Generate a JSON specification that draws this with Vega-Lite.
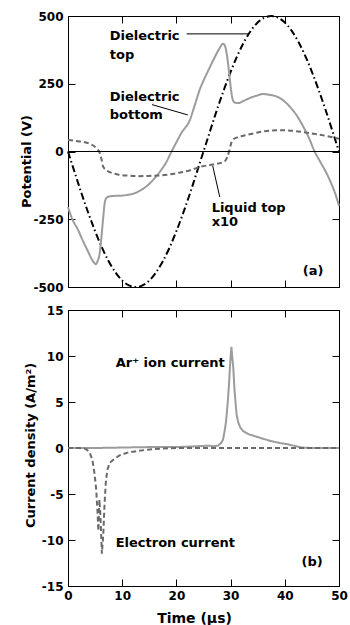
{
  "$schema": "https://vega.github.io/schema/vega-lite/v6.json",
  "padding": {"left": 20, "top": 10, "right": 4, "bottom": 0},
  "spacing": 23,
  "bounds": "flush",
  "resolve": {"scale": {"color": "independent", "strokeDash": "independent"}},
  "config": {
    "view": {"stroke": null},
    "font": "DejaVu Sans",
    "axis": {
      "domainColor": "#000", "domainWidth": 1, "tickColor": "#000", "tickWidth": 1, "tickSize": -7,
      "grid": false, "labelFont": "DejaVu Sans", "labelFontSize": 12, "labelFontWeight": "bold",
      "labelColor": "#000", "labelPadding": 12, "labelOverlap": false, "labelFlush": false,
      "titleFont": "DejaVu Sans", "titleFontSize": 13, "titleFontWeight": "bold", "titleColor": "#000",
      "labelExpr": "'' + datum.value"
    }
  },
  "vconcat": [
    {
      "width": 271,
      "height": 271,
      "layer": [
        {
          "data": {"values": [
            {"s": "top", "t": 0, "v": 0}, {"s": "top", "t": 1.25, "v": -78}, {"s": "top", "t": 2.5, "v": -155}, {"s": "top", "t": 3.75, "v": -227},
            {"s": "top", "t": 5, "v": -294}, {"s": "top", "t": 6.25, "v": -354}, {"s": "top", "t": 7.5, "v": -405}, {"s": "top", "t": 8.75, "v": -446},
            {"s": "top", "t": 10, "v": -476}, {"s": "top", "t": 11.25, "v": -494}, {"s": "top", "t": 12.5, "v": -500}, {"s": "top", "t": 13.75, "v": -494},
            {"s": "top", "t": 15, "v": -476}, {"s": "top", "t": 16.25, "v": -446}, {"s": "top", "t": 17.5, "v": -405}, {"s": "top", "t": 18.75, "v": -354},
            {"s": "top", "t": 20, "v": -294}, {"s": "top", "t": 21.25, "v": -227}, {"s": "top", "t": 22.5, "v": -155}, {"s": "top", "t": 23.75, "v": -78},
            {"s": "top", "t": 25, "v": 0}, {"s": "top", "t": 26.25, "v": 78}, {"s": "top", "t": 27.5, "v": 155}, {"s": "top", "t": 28.75, "v": 227},
            {"s": "top", "t": 30, "v": 294}, {"s": "top", "t": 31.25, "v": 354}, {"s": "top", "t": 32.5, "v": 405}, {"s": "top", "t": 33.75, "v": 446},
            {"s": "top", "t": 35, "v": 476}, {"s": "top", "t": 36.25, "v": 494}, {"s": "top", "t": 37.5, "v": 500}, {"s": "top", "t": 38.75, "v": 494},
            {"s": "top", "t": 40, "v": 476}, {"s": "top", "t": 41.25, "v": 446}, {"s": "top", "t": 42.5, "v": 405}, {"s": "top", "t": 43.75, "v": 354},
            {"s": "top", "t": 45, "v": 294}, {"s": "top", "t": 46.25, "v": 227}, {"s": "top", "t": 47.5, "v": 155}, {"s": "top", "t": 48.75, "v": 78},
            {"s": "top", "t": 50, "v": 0},
            {"s": "bottom", "t": 0, "v": -205}, {"s": "bottom", "t": 0.8, "v": -250}, {"s": "bottom", "t": 1.85, "v": -289}, {"s": "bottom", "t": 2.8, "v": -332},
            {"s": "bottom", "t": 3.7, "v": -369}, {"s": "bottom", "t": 4.4, "v": -398}, {"s": "bottom", "t": 4.9, "v": -412}, {"s": "bottom", "t": 5.15, "v": -416},
            {"s": "bottom", "t": 5.45, "v": -405}, {"s": "bottom", "t": 5.85, "v": -375}, {"s": "bottom", "t": 6.15, "v": -320}, {"s": "bottom", "t": 6.46, "v": -252},
            {"s": "bottom", "t": 6.77, "v": -190}, {"s": "bottom", "t": 7.0, "v": -174}, {"s": "bottom", "t": 7.4, "v": -167}, {"s": "bottom", "t": 8.5, "v": -164},
            {"s": "bottom", "t": 9.85, "v": -163}, {"s": "bottom", "t": 11, "v": -160}, {"s": "bottom", "t": 12.3, "v": -154}, {"s": "bottom", "t": 13.5, "v": -142},
            {"s": "bottom", "t": 14.8, "v": -123}, {"s": "bottom", "t": 16, "v": -98}, {"s": "bottom", "t": 17.2, "v": -68}, {"s": "bottom", "t": 18.2, "v": -37},
            {"s": "bottom", "t": 19.1, "v": 0}, {"s": "bottom", "t": 20, "v": 34}, {"s": "bottom", "t": 20.9, "v": 68}, {"s": "bottom", "t": 22.5, "v": 117},
            {"s": "bottom", "t": 23.4, "v": 172}, {"s": "bottom", "t": 24.3, "v": 228}, {"s": "bottom", "t": 25.2, "v": 270}, {"s": "bottom", "t": 26.1, "v": 308},
            {"s": "bottom", "t": 27.0, "v": 345}, {"s": "bottom", "t": 28.0, "v": 382}, {"s": "bottom", "t": 28.6, "v": 398}, {"s": "bottom", "t": 29.0, "v": 388},
            {"s": "bottom", "t": 29.2, "v": 370}, {"s": "bottom", "t": 29.5, "v": 330}, {"s": "bottom", "t": 29.8, "v": 277}, {"s": "bottom", "t": 30.1, "v": 225},
            {"s": "bottom", "t": 30.4, "v": 191}, {"s": "bottom", "t": 30.8, "v": 180}, {"s": "bottom", "t": 31.4, "v": 179}, {"s": "bottom", "t": 32.5, "v": 188},
            {"s": "bottom", "t": 33.5, "v": 197}, {"s": "bottom", "t": 34.8, "v": 206}, {"s": "bottom", "t": 36.0, "v": 212}, {"s": "bottom", "t": 37.2, "v": 209},
            {"s": "bottom", "t": 38.5, "v": 203}, {"s": "bottom", "t": 39.8, "v": 187}, {"s": "bottom", "t": 40.9, "v": 166}, {"s": "bottom", "t": 42.2, "v": 133},
            {"s": "bottom", "t": 43.4, "v": 92}, {"s": "bottom", "t": 44.5, "v": 48}, {"s": "bottom", "t": 45.5, "v": 0}, {"s": "bottom", "t": 46.6, "v": -40},
            {"s": "bottom", "t": 47.7, "v": -80}, {"s": "bottom", "t": 48.5, "v": -115}, {"s": "bottom", "t": 49.3, "v": -155}, {"s": "bottom", "t": 50, "v": -200},
            {"s": "liquid", "t": 0, "v": 42}, {"s": "liquid", "t": 1.5, "v": 39}, {"s": "liquid", "t": 3.1, "v": 34}, {"s": "liquid", "t": 4.3, "v": 26},
            {"s": "liquid", "t": 5.2, "v": 13}, {"s": "liquid", "t": 5.85, "v": -5}, {"s": "liquid", "t": 6.2, "v": -30}, {"s": "liquid", "t": 6.46, "v": -55},
            {"s": "liquid", "t": 6.9, "v": -66}, {"s": "liquid", "t": 7.4, "v": -73}, {"s": "liquid", "t": 8.2, "v": -80}, {"s": "liquid", "t": 9.2, "v": -85},
            {"s": "liquid", "t": 11, "v": -89}, {"s": "liquid", "t": 12.9, "v": -91}, {"s": "liquid", "t": 14.8, "v": -90}, {"s": "liquid", "t": 16.6, "v": -89},
            {"s": "liquid", "t": 18.5, "v": -85}, {"s": "liquid", "t": 20.3, "v": -79}, {"s": "liquid", "t": 22.4, "v": -70}, {"s": "liquid", "t": 24.5, "v": -56},
            {"s": "liquid", "t": 26.8, "v": -48}, {"s": "liquid", "t": 28.2, "v": -42}, {"s": "liquid", "t": 28.9, "v": -37}, {"s": "liquid", "t": 29.4, "v": -20},
            {"s": "liquid", "t": 29.8, "v": 6}, {"s": "liquid", "t": 30.1, "v": 30}, {"s": "liquid", "t": 30.4, "v": 43}, {"s": "liquid", "t": 31.2, "v": 52},
            {"s": "liquid", "t": 32.3, "v": 58}, {"s": "liquid", "t": 34.5, "v": 68}, {"s": "liquid", "t": 36.6, "v": 76}, {"s": "liquid", "t": 38.5, "v": 78},
            {"s": "liquid", "t": 40.3, "v": 78}, {"s": "liquid", "t": 42.5, "v": 74}, {"s": "liquid", "t": 44.6, "v": 68}, {"s": "liquid", "t": 47.5, "v": 58},
            {"s": "liquid", "t": 50, "v": 47}
          ]},
          "mark": {"type": "line", "strokeWidth": 2, "interpolate": "monotone"},
          "encoding": {
            "x": {"field": "t", "type": "quantitative", "scale": {"domain": [0, 50], "nice": false},
                  "axis": {"orient": "bottom", "values": [0, 10, 20, 30, 40, 50], "labels": false, "title": null}},
            "y": {"field": "v", "type": "quantitative", "scale": {"domain": [-500, 500], "nice": false},
                  "axis": {"orient": "left", "values": [-500, -250, 0, 250, 500], "title": "Potential (V)",
                           "titleX": -38, "titleY": 145, "titleBaseline": "alphabetic"}},
            "color": {"field": "s", "type": "nominal", "legend": null,
                      "scale": {"domain": ["top", "bottom", "liquid"], "range": ["#000000", "#9c9c9c", "#6a6a6a"]}},
            "strokeDash": {"field": "s", "type": "nominal", "legend": null,
                           "scale": {"domain": ["top", "bottom", "liquid"], "range": [[7, 3, 1.5, 3], [1, 0], [5, 3]]}}
          }
        },
        {
          "data": {"values": [{"v": 0}]},
          "mark": {"type": "rule", "color": "#000", "strokeWidth": 1},
          "encoding": {
            "y": {"field": "v", "type": "quantitative", "scale": {"domain": [-500, 500], "nice": false}, "axis": null}
          }
        },
        {
          "data": {"values": [
            {"t": 21.9, "v": 434, "t2": 33.4, "v2": 434},
            {"t": 15.5, "v": 173, "t2": 22.1, "v2": 135},
            {"t": 26.7, "v": -53, "t2": 28.0, "v2": -168}
          ]},
          "mark": {"type": "rule", "color": "#000", "strokeWidth": 1},
          "encoding": {
            "x": {"field": "t", "type": "quantitative", "scale": {"domain": [0, 50], "nice": false}, "axis": null},
            "x2": {"field": "t2"},
            "y": {"field": "v", "type": "quantitative", "scale": {"domain": [-500, 500], "nice": false}, "axis": null},
            "y2": {"field": "v2"}
          }
        },
        {
          "data": {"values": [
            {"t": 7.7, "v": 413, "label": "Dielectric"},
            {"t": 7.7, "v": 342, "label": "top"},
            {"t": 7.7, "v": 187, "label": "Dielectric"},
            {"t": 7.7, "v": 121, "label": "bottom"},
            {"t": 26.5, "v": -222, "label": "Liquid top"},
            {"t": 26.5, "v": -274, "label": "x10"},
            {"t": 43.3, "v": -455, "label": "(a)"}
          ]},
          "mark": {"type": "text", "align": "left", "baseline": "alphabetic", "font": "DejaVu Sans", "fontSize": 13, "fontWeight": "bold", "color": "#000"},
          "encoding": {
            "x": {"field": "t", "type": "quantitative", "scale": {"domain": [0, 50], "nice": false},
                  "axis": {"orient": "top", "values": [0, 10, 20, 30, 40, 50], "labels": false, "title": null}},
            "y": {"field": "v", "type": "quantitative", "scale": {"domain": [-500, 500], "nice": false},
                  "axis": {"orient": "right", "values": [-500, -250, 0, 250, 500], "labels": false, "title": null}},
            "text": {"field": "label"}
          }
        }
      ],
      "resolve": {"axis": {"x": "independent", "y": "independent"}}
    },
    {
      "width": 271,
      "height": 276,
      "layer": [
        {
          "data": {"values": [
            {"s": "ion", "t": 0, "j": 0}, {"s": "ion", "t": 5, "j": 0}, {"s": "ion", "t": 10, "j": 0.05}, {"s": "ion", "t": 15, "j": 0.1},
            {"s": "ion", "t": 20, "j": 0.1}, {"s": "ion", "t": 24, "j": 0.2}, {"s": "ion", "t": 25.8, "j": 0.25}, {"s": "ion", "t": 27, "j": 0.2},
            {"s": "ion", "t": 27.7, "j": 0.25}, {"s": "ion", "t": 28.3, "j": 0.6}, {"s": "ion", "t": 28.6, "j": 0.9}, {"s": "ion", "t": 29.0, "j": 2.2},
            {"s": "ion", "t": 29.2, "j": 3.1}, {"s": "ion", "t": 29.5, "j": 5.2}, {"s": "ion", "t": 29.7, "j": 6.9}, {"s": "ion", "t": 29.95, "j": 9.5},
            {"s": "ion", "t": 30.15, "j": 11}, {"s": "ion", "t": 30.35, "j": 9.6}, {"s": "ion", "t": 30.5, "j": 8.7}, {"s": "ion", "t": 30.7, "j": 6.5},
            {"s": "ion", "t": 30.9, "j": 5.0}, {"s": "ion", "t": 31.1, "j": 3.7}, {"s": "ion", "t": 31.4, "j": 2.8}, {"s": "ion", "t": 31.8, "j": 2.2},
            {"s": "ion", "t": 32.3, "j": 1.85}, {"s": "ion", "t": 33.3, "j": 1.5}, {"s": "ion", "t": 34.4, "j": 1.3}, {"s": "ion", "t": 36, "j": 1.0},
            {"s": "ion", "t": 37.5, "j": 0.75}, {"s": "ion", "t": 39, "j": 0.55}, {"s": "ion", "t": 40.6, "j": 0.4}, {"s": "ion", "t": 42, "j": 0.2},
            {"s": "ion", "t": 43.1, "j": 0.05}, {"s": "ion", "t": 45, "j": 0}, {"s": "ion", "t": 50, "j": 0},
            {"s": "electron", "t": 0, "j": 0}, {"s": "electron", "t": 2, "j": 0}, {"s": "electron", "t": 3, "j": -0.05}, {"s": "electron", "t": 3.5, "j": -0.2},
            {"s": "electron", "t": 4, "j": -0.5}, {"s": "electron", "t": 4.5, "j": -1.3}, {"s": "electron", "t": 4.9, "j": -2.8}, {"s": "electron", "t": 5.2, "j": -4.5},
            {"s": "electron", "t": 5.45, "j": -7}, {"s": "electron", "t": 5.6, "j": -9.0}, {"s": "electron", "t": 5.8, "j": -5.6}, {"s": "electron", "t": 6.0, "j": -7.5},
            {"s": "electron", "t": 6.25, "j": -11.5}, {"s": "electron", "t": 6.5, "j": -9.5}, {"s": "electron", "t": 6.75, "j": -6}, {"s": "electron", "t": 7.0, "j": -3.5},
            {"s": "electron", "t": 7.3, "j": -2.3}, {"s": "electron", "t": 7.7, "j": -1.6}, {"s": "electron", "t": 8.5, "j": -1.2}, {"s": "electron", "t": 9.5, "j": -0.8},
            {"s": "electron", "t": 11, "j": -0.5}, {"s": "electron", "t": 13, "j": -0.3}, {"s": "electron", "t": 16, "j": -0.1}, {"s": "electron", "t": 20, "j": 0},
            {"s": "electron", "t": 30, "j": 0}, {"s": "electron", "t": 50, "j": 0}
          ]},
          "mark": {"type": "line", "strokeWidth": 2},
          "encoding": {
            "x": {"field": "t", "type": "quantitative", "scale": {"domain": [0, 50], "nice": false},
                  "axis": {"orient": "bottom", "values": [0, 10, 20, 30, 40, 50], "title": "Time (µs)", "titleFontSize": 14, "labelPadding": 11,
                           "titleX": 126, "titleY": 36, "titleBaseline": "alphabetic"}},
            "y": {"field": "j", "type": "quantitative", "scale": {"domain": [-15, 15], "nice": false},
                  "axis": {"orient": "left", "values": [-15, -10, -5, 0, 5, 10, 15], "title": "Current density (A/m²)",
                           "titleX": -34, "titleY": 135, "titleBaseline": "alphabetic"}},
            "color": {"field": "s", "type": "nominal", "legend": null,
                      "scale": {"domain": ["ion", "electron"], "range": ["#9c9c9c", "#6a6a6a"]}},
            "strokeDash": {"field": "s", "type": "nominal", "legend": null,
                           "scale": {"domain": ["ion", "electron"], "range": [[1, 0], [5, 3]]}}
          }
        },
        {
          "data": {"values": [
            {"t": 8.8, "j": 8.8, "label": "Ar⁺ ion current"},
            {"t": 8.8, "j": -10.8, "label": "Electron current"},
            {"t": 43.1, "j": -12.8, "label": "(b)"}
          ]},
          "mark": {"type": "text", "align": "left", "baseline": "alphabetic", "font": "DejaVu Sans", "fontSize": 13, "fontWeight": "bold", "color": "#000"},
          "encoding": {
            "x": {"field": "t", "type": "quantitative", "scale": {"domain": [0, 50], "nice": false},
                  "axis": {"orient": "top", "values": [0, 10, 20, 30, 40, 50], "labels": false, "title": null}},
            "y": {"field": "j", "type": "quantitative", "scale": {"domain": [-15, 15], "nice": false},
                  "axis": {"orient": "right", "values": [-15, -10, -5, 0, 5, 10, 15], "labels": false, "title": null}},
            "text": {"field": "label"}
          }
        }
      ],
      "resolve": {"axis": {"x": "independent", "y": "independent"}}
    }
  ]
}
